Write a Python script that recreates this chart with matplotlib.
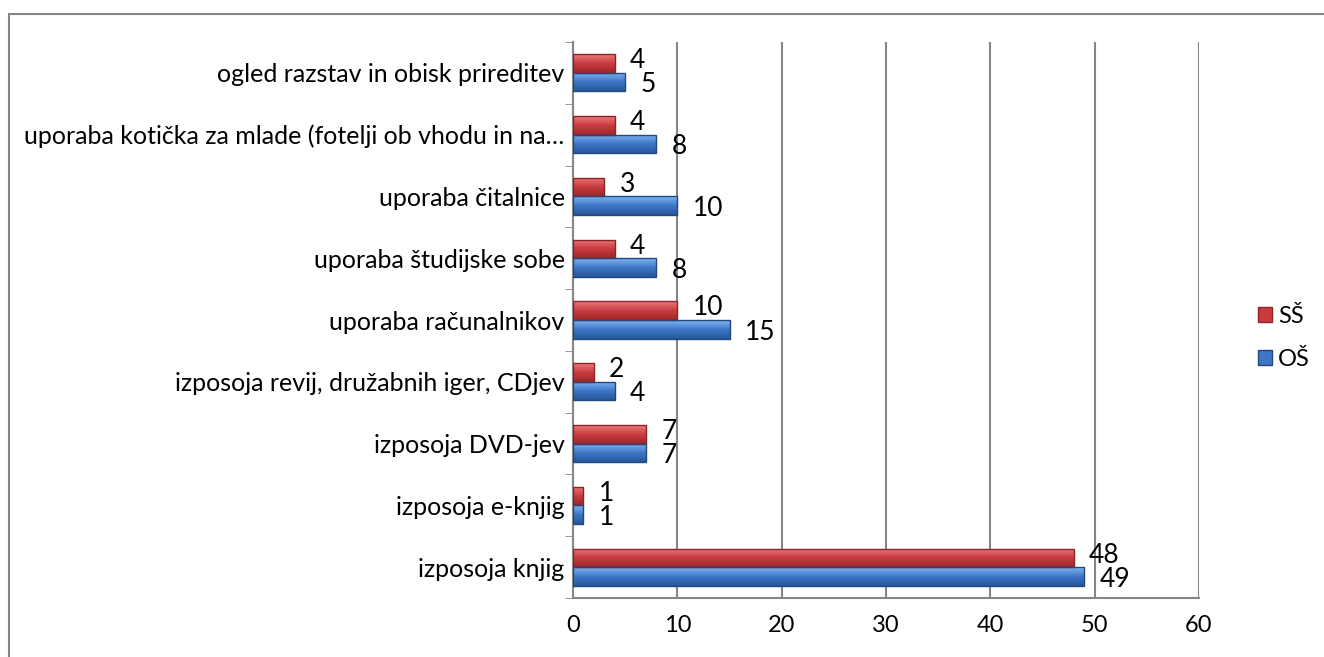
import matplotlib.pyplot as plt
import numpy as np
from matplotlib.patches import Rectangle
from matplotlib.colors import LinearSegmentedColormap

# data
categories = [
    "izposoja knjig",
    "izposoja e-knjig",
    "izposoja DVD-jev",
    "izposoja revij, družabnih iger, CDjev",
    "uporaba računalnikov",
    "uporaba študijske sobe",
    "uporaba čitalnice",
    "uporaba kotička za mlade (fotelji ob vhodu in na…",
    "ogled razstav in obisk prireditev",
]
ss_values = [48, 1, 7, 2, 10, 4, 3, 4, 4]
os_values = [49, 1, 7, 4, 15, 8, 10, 8, 5]
xticks = [0, 10, 20, 30, 40, 50, 60]

plt.rcParams["font.family"] = ["Lato", "DejaVu Sans"]

fig = plt.figure(figsize=(13.24, 6.57), dpi=100)
ax = fig.add_axes([573 / 1324, 1 - 598 / 657, (1199 - 573) / 1324, (598 - 42) / 657])

# outer chart frame
fig.add_artist(Rectangle((9 / 1324, -0.05), 1.1, 1 - 14 / 657 + 0.05,
                         transform=fig.transFigure, fill=False,
                         edgecolor="#868686", linewidth=1.5))

y = np.arange(len(categories))
h = 0.3
red_cmap = LinearSegmentedColormap.from_list("r", ["#9E2628", "#C93C3F", "#EC7A7C"])
blue_cmap = LinearSegmentedColormap.from_list("b", ["#28579A", "#3E77C8", "#82B6F0"])


def shade(bars, cmap):
    # vertical gradient inside each bar to mimic the glossy look
    grad = np.linspace(0, 1, 64).reshape(-1, 1)
    for b in bars:
        x0, y0 = b.get_x(), b.get_y()
        w, hh = b.get_width(), b.get_height()
        im = ax.imshow(grad, cmap=cmap, aspect="auto", origin="lower",
                       extent=[x0, x0 + w, y0, y0 + hh], zorder=3)
        im.set_clip_path(b)
        b.set_facecolor("none")
        b.set_zorder(4)


ss_bars = ax.barh(y + h / 2, ss_values, height=h, color="#C83B3D",
                  edgecolor="#8E2325", linewidth=1, label="SŠ", zorder=3)
os_bars = ax.barh(y - h / 2, os_values, height=h, color="#3F76C8",
                  edgecolor="#22497F", linewidth=1, label="OŠ", zorder=3)

handles, labels = ax.get_legend_handles_labels()
leg = ax.legend(handles, labels, loc="center left", bbox_to_anchor=(1.06, 0.468),
                frameon=False, fontsize=17, handlelength=0.6, handleheight=0.6,
                labelspacing=0.95, handletextpad=0.25)

shade(ss_bars, red_cmap)
shade(os_bars, blue_cmap)
leg.legend_handles[0].set_facecolor("#C83B3D")
leg.legend_handles[1].set_facecolor("#3F76C8")

for i in range(len(categories)):
    ax.annotate(str(ss_values[i]), (ss_values[i], y[i] + h / 2),
                xytext=(11, 2), textcoords="offset points",
                va="center", ha="left", fontsize=19)
    ax.annotate(str(os_values[i]), (os_values[i], y[i] - h / 2),
                xytext=(11, -2), textcoords="offset points",
                va="center", ha="left", fontsize=19)

ax.set_xlim(0, 60)
ax.set_ylim(-0.5, len(categories) - 0.5)
ax.set_xticks(xticks)
ax.set_yticks(y)
ax.set_yticklabels(categories, fontsize=18)
ax.tick_params(axis="y", length=0, pad=6)
ax.tick_params(axis="x", length=0, labelsize=17, pad=12)
# category boundary ticks on the left spine
ax.set_yticks(np.arange(len(categories) + 1) - 0.5, minor=True)
ax.tick_params(axis="y", which="minor", length=6, color="#868686")

ax.grid(axis="x", color="#868686", linewidth=1.5, zorder=0)
for s in ["top", "right"]:
    ax.spines[s].set_visible(False)
ax.spines["left"].set_color("#868686")
ax.spines["bottom"].set_color("#868686")
ax.spines["left"].set_linewidth(1.5)
ax.spines["bottom"].set_linewidth(1.5)

fig.savefig("out.png", dpi=100)
